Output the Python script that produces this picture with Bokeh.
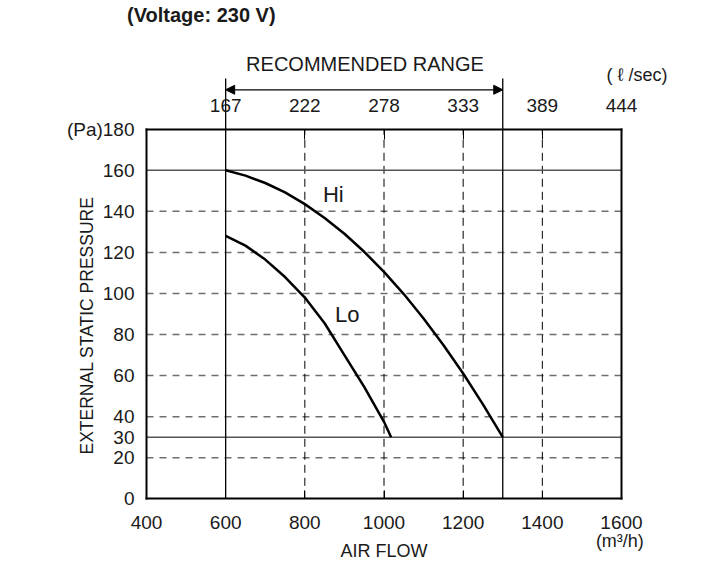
import math
from bokeh.plotting import figure
from bokeh.models import LinearAxis, FixedTicker, Label, Arrow, NormalHead, Range1d
from bokeh.embed import file_html
from bokeh.resources import INLINE

# ---- data ----
hi_flow = [600, 650, 700, 750, 800, 850, 900, 950, 1000, 1050, 1100, 1150, 1200, 1250, 1300]
hi_pressure = [160, 157.4, 153.8, 149.2, 143.5, 136.8, 129.1, 120.3, 110.5, 99.7, 87.8, 74.9, 61.0, 46.0, 30]
lo_flow = [600, 650, 700, 750, 800, 850, 900, 950, 1000, 1018]
lo_pressure = [128, 123.3, 116.5, 108, 98, 85.5, 70, 54.5, 37.5, 30]

flow_min, flow_max = 400, 1600
pressure_min, pressure_max = 0, 180
flow_ticks = [400, 600, 800, 1000, 1200, 1400, 1600]
top_ticks = [600, 800, 1000, 1200, 1400, 1600]
top_labels = ["167", "222", "278", "333", "389", "444"]
pressure_ticks = [0, 20, 30, 40, 60, 80, 100, 120, 140, 160, 180]
dashed_pressure = [20, 40, 60, 80, 100, 120, 140]
solid_pressure = [30, 160]
dashed_flow = [800, 1000, 1200, 1400]
range_start, range_end = 600, 1300

FONT = "Liberation Sans"
TXT = "#1a1a1a"

# canvas-wide frame; the chart box is drawn by the four axes at fixed locations
W, H = 701, 561
px_x0, px_x1 = 146.0, 621.0     # pixel positions of 400 and 1600
px_y0, px_y1 = 498.3, 128.7     # pixel positions of 0 and 180
sx = (px_x1 - px_x0) / (flow_max - flow_min)
sy = (px_y0 - px_y1) / (pressure_max - pressure_min)
xr = Range1d(flow_min - px_x0 / sx, flow_max + (W - px_x1) / sx)
yr = Range1d(pressure_min - (H - px_y0) / sy, pressure_max + px_y1 / sy)

p = figure(width=W, height=H, x_range=xr, y_range=yr,
           x_axis_location=None, y_axis_location=None,
           output_backend="svg", toolbar_location=None, min_border=0)
p.background_fill_color = "white"
p.border_fill_color = "white"
p.outline_line_color = None
p.xgrid.visible = False
p.ygrid.visible = False


def style_axis(ax, standoff, tick_in):
    ax.axis_line_color = "black"
    ax.axis_line_width = 2
    ax.axis_line_cap = "square"
    ax.major_tick_in = tick_in
    ax.major_tick_out = 0
    ax.major_tick_line_color = "black"
    ax.major_tick_line_width = 1
    ax.minor_tick_line_color = None
    ax.major_label_standoff = standoff
    ax.major_label_text_font = FONT
    ax.major_label_text_font_size = "19px"
    ax.major_label_text_color = TXT


bottom = LinearAxis(ticker=FixedTicker(ticks=flow_ticks), fixed_location=pressure_min,
                    bounds=(flow_min, flow_max))
style_axis(bottom, 17, 8)
bottom.axis_label = "AIR FLOW"
bottom.axis_label_standoff = 9
bottom.axis_label_text_font = FONT
bottom.axis_label_text_font_size = "18px"
bottom.axis_label_text_font_style = "normal"
bottom.axis_label_text_color = TXT
p.add_layout(bottom, "below")

top = LinearAxis(ticker=FixedTicker(ticks=top_ticks), fixed_location=pressure_max,
                 bounds=(flow_min, flow_max),
                 major_label_overrides={t: s for t, s in zip(top_ticks, top_labels)})
style_axis(top, 17, 10)
p.add_layout(top, "above")

left = LinearAxis(ticker=FixedTicker(ticks=pressure_ticks), fixed_location=flow_min,
                  bounds=(pressure_min, pressure_max),
                  major_label_overrides={180: "(Pa)180"})
style_axis(left, 12, 0)
p.add_layout(left, "left")

right = LinearAxis(ticker=FixedTicker(ticks=[]), fixed_location=flow_max,
                   bounds=(pressure_min, pressure_max))
style_axis(right, 12, 0)
p.add_layout(right, "right")

# grid lines inside the box
n = len(dashed_pressure)
p.segment(x0=[flow_min] * n, x1=[flow_max] * n, y0=dashed_pressure, y1=dashed_pressure,
          line_color="#6e6e6e", line_width=1.5, line_dash="7 6")
m = len(dashed_flow)
p.segment(x0=dashed_flow, x1=dashed_flow, y0=[pressure_min] * m, y1=[pressure_max] * m,
          line_color="black", line_width=1, line_dash="8 5")
k = len(solid_pressure)
p.segment(x0=[flow_min] * k, x1=[flow_max] * k, y0=solid_pressure, y1=solid_pressure,
          line_color="#555555", line_width=1.5)

# recommended range: vertical lines rising above the box, double arrow
p.segment(x0=[range_start, range_end], x1=[range_start, range_end],
          y0=[pressure_min, pressure_min], y1=[204.7, 204.7],
          line_color="black", line_width=1.3)
p.add_layout(Arrow(x_start=range_start, y_start=199.2, x_end=range_end, y_end=199.2,
                   start=NormalHead(size=9, fill_color="black", line_color="black"),
                   end=NormalHead(size=9, fill_color="black", line_color="black"),
                   line_color="black", line_width=1.3))

# curves
p.line(hi_flow, hi_pressure, line_color="black", line_width=2.5)
p.line(lo_flow, lo_pressure, line_color="black", line_width=2.5)


def lab(x, y, text, size, align="center", style="normal", angle=0):
    p.add_layout(Label(x=x, y=y, text=text, text_align=align, text_baseline="alphabetic",
                       text_font=FONT, text_font_size=size, text_font_style=style,
                       text_color=TXT, angle=angle))


lab(952, 211.8, "RECOMMENDED RANGE", "20px")
lab(1716, 206.6, "( \u2113 /sec)", "18px", align="right")
lab(1656.5, -20.7, "(m\u00b3/h)", "18px", align="right")
lab(538.5, 235.8, "(Voltage: 230 V)", "20px", style="bold")
lab(872, 148.4, "Hi", "22px")
lab(907, 89.6, "Lo", "22px")
lab(249.1, 84.4, "EXTERNAL STATIC PRESSURE", "17.5px", angle=math.pi / 2)

open("out.html", "w").write(file_html(p, INLINE))
